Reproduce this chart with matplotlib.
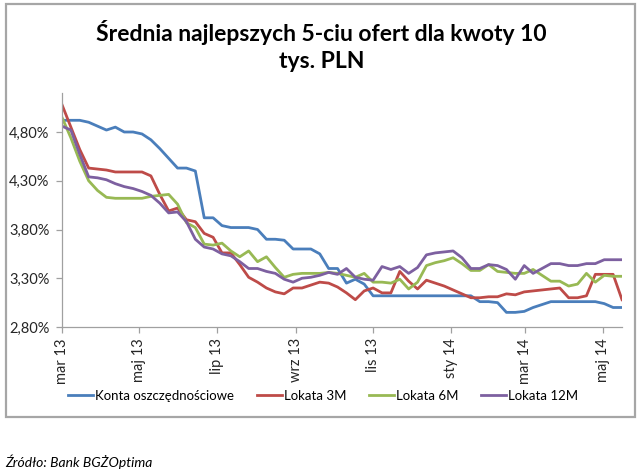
import matplotlib
matplotlib.use("Agg")
import matplotlib.pyplot as plt
import numpy as np
import pandas as pd
from matplotlib.patches import Rectangle

plt.rcParams['font.family'] = ['Lato', 'DejaVu Sans']

title = "Średnia najlepszych 5-ciu ofert dla kwoty 10\ntys. PLN"
source = "Źródło: Bank BGŻOptima"

dates = pd.date_range("2013-03-01", periods=64, freq="7D")

konta = [4.92, 4.92, 4.92, 4.90, 4.86, 4.82, 4.85, 4.80, 4.80, 4.78,
         4.72, 4.63, 4.53, 4.43, 4.43, 4.40, 3.92, 3.92, 3.84, 3.82,
         3.82, 3.82, 3.80, 3.70, 3.70, 3.69, 3.60, 3.60, 3.60, 3.55,
         3.40, 3.40, 3.25, 3.29, 3.24, 3.12, 3.12, 3.12, 3.12, 3.12,
         3.12, 3.12, 3.12, 3.12, 3.12, 3.12, 3.12, 3.06, 3.06, 3.05,
         2.95, 2.95, 2.96, 3.00, 3.03, 3.06, 3.06, 3.06, 3.06, 3.06,
         3.06, 3.04, 3.00, 3.00]

lokata3 = [5.08, 4.85, 4.62, 4.43, 4.42, 4.41, 4.39, 4.39, 4.39, 4.39,
           4.35, 4.16, 3.99, 4.02, 3.90, 3.88, 3.76, 3.72, 3.56, 3.56,
           3.44, 3.31, 3.26, 3.20, 3.16, 3.14, 3.20, 3.20, 3.23, 3.26,
           3.25, 3.21, 3.15, 3.08, 3.17, 3.20, 3.15, 3.15, 3.37, 3.27,
           3.19, 3.28, 3.25, 3.22, 3.18, 3.14, 3.10, 3.10, 3.11, 3.11,
           3.14, 3.13, 3.16, 3.17, 3.18, 3.19, 3.20, 3.10, 3.10, 3.12,
           3.34, 3.34, 3.34, 3.08]

lokata6 = [4.95, 4.74, 4.50, 4.30, 4.20, 4.13, 4.12, 4.12, 4.12, 4.12,
           4.14, 4.15, 4.16, 4.06, 3.87, 3.82, 3.65, 3.64, 3.66, 3.58,
           3.52, 3.58, 3.47, 3.52, 3.41, 3.31, 3.34, 3.35, 3.35, 3.35,
           3.36, 3.35, 3.33, 3.31, 3.35, 3.26, 3.26, 3.25, 3.29, 3.19,
           3.26, 3.43, 3.46, 3.48, 3.51, 3.45, 3.38, 3.38, 3.44, 3.37,
           3.36, 3.35, 3.35, 3.39, 3.33, 3.27, 3.27, 3.22, 3.24, 3.35,
           3.26, 3.33, 3.32, 3.32]

lokata12 = [4.86, 4.82, 4.57, 4.34, 4.33, 4.31, 4.27, 4.24, 4.22, 4.19,
            4.15, 4.07, 3.97, 3.98, 3.88, 3.70, 3.62, 3.60, 3.55, 3.53,
            3.47, 3.40, 3.40, 3.37, 3.35, 3.29, 3.26, 3.30, 3.31, 3.33,
            3.36, 3.34, 3.40, 3.31, 3.29, 3.28, 3.42, 3.39, 3.42, 3.35,
            3.41, 3.54, 3.56, 3.57, 3.58, 3.51, 3.40, 3.40, 3.44, 3.43,
            3.39, 3.29, 3.43, 3.35, 3.40, 3.45, 3.45, 3.43, 3.43, 3.45,
            3.45, 3.49, 3.49, 3.49]

series_names = ["Konta oszczędnościowe", "Lokata 3M", "Lokata 6M", "Lokata 12M"]
series_colors = ["#4A7EBB", "#BE4B48", "#98B954", "#7D60A0"]

ytick_values = [2.80, 3.30, 3.80, 4.30, 4.80]
ytick_labels = ["2,80%", "3,30%", "3,80%", "4,30%", "4,80%"]
xtick_dates = pd.to_datetime(["2013-03-01", "2013-05-01", "2013-07-01", "2013-09-01",
                              "2013-11-01", "2014-01-01", "2014-03-01", "2014-05-01"])
xtick_labels = ["mar 13", "maj 13", "lip 13", "wrz 13", "lis 13", "sty 14", "mar 14", "maj 14"]

fig = plt.figure(figsize=(6.4, 4.76), dpi=100)
fig.patch.set_facecolor("white")

# outer chart frame
fig.patches.append(Rectangle((6/640, 1-417/476), (635-6)/640, (417-4)/476,
                             transform=fig.transFigure, fill=False,
                             edgecolor="#A6A6A6", linewidth=1.6))

ax = fig.add_axes([62/640, 1-327/476, (622-62)/640, (327-93)/476])

for vals, name, col in zip([konta, lokata3, lokata6, lokata12], series_names, series_colors):
    ax.plot(dates, vals, color=col, linewidth=2.0, label=name, solid_joinstyle="round")

ax.set_xlim(dates[0], dates[-1])
ax.set_ylim(2.80, 5.20)
ax.set_yticks(ytick_values)
ax.set_yticklabels(ytick_labels)
ax.set_xticks(xtick_dates)
ax.set_xticklabels(xtick_labels, rotation=90)

for s in ["top", "right"]:
    ax.spines[s].set_visible(False)
for s in ["left", "bottom"]:
    ax.spines[s].set_color("#A0A0A0")
    ax.spines[s].set_linewidth(0.9)
ax.tick_params(axis="both", colors="#A0A0A0", labelcolor="#262626", labelsize=10.5,
               length=4, width=0.9, direction="out")
ax.tick_params(axis="y", pad=5)
ax.tick_params(axis="x", pad=4)

fig.text(0.502, 1-46/476, title, ha="center", va="center", fontsize=16.5,
         fontweight="bold", color="#000000", linespacing=1.3)

leg = fig.legend(loc="center", bbox_to_anchor=(0.505, 1-396/476), ncol=4, frameon=False,
                 fontsize=9.5, handlelength=1.9, handletextpad=0.15, columnspacing=1.7)

fig.text(5/640, 1-462/476, source, ha="left", va="center", fontsize=10,
         style="italic", color="#000000")

fig.savefig("out.png", dpi=100, facecolor="white")
